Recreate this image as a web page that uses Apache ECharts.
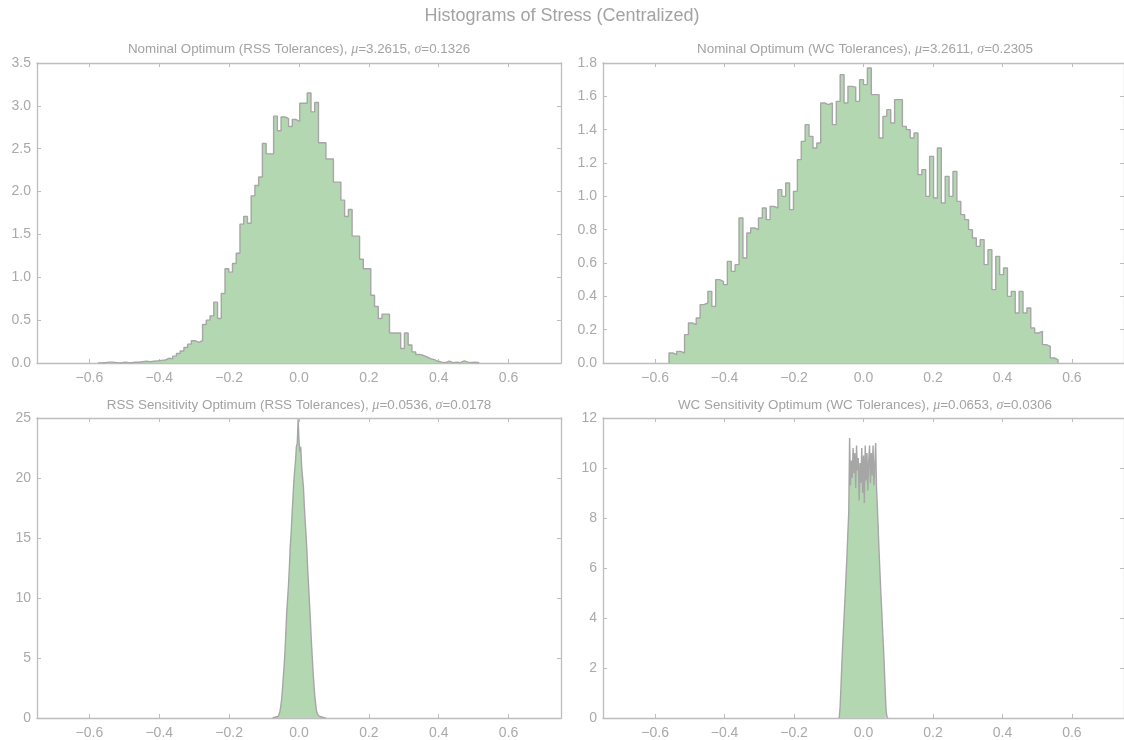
<!DOCTYPE html>
<html>
<head>
<meta charset="utf-8">
<script src="https://cdn.jsdelivr.net/npm/echarts@6/dist/echarts.min.js"></script>
<style>
  html, body { margin: 0; padding: 0; background: #ffffff; }
  #chart { width: 1124px; height: 740px; }
</style>
</head>
<body>
<div id="chart"></div>
<script>
// ---------------- DATA ----------------
const MAIN_TITLE = 'Histograms of Stress (Centralized)';

const PANEL_NAMES = [
  'Nominal Optimum (RSS Tolerances)',
  'Nominal Optimum (WC Tolerances)',
  'RSS Sensitivity Optimum (RSS Tolerances)',
  'WC Sensitivity Optimum (WC Tolerances)'
];
const PANEL_MU = ['3.2615', '3.2611', '0.0536', '0.0653'];
const PANEL_SIGMA = ['0.1326', '0.2305', '0.0178', '0.0306'];

const X_TICKS = [-0.6, -0.4, -0.2, 0.0, 0.2, 0.4, 0.6];

// y-axis ranges per panel
const Y_MAX = [3.5, 1.8, 25, 12];
const Y_STEP = [0.5, 0.2, 5, 2];
const Y_DECIMALS = [1, 1, 0, 0];

// panel 1: Nominal Optimum (RSS)
const TL_START = -0.5756;
const TL_WIDTH = 0.0107;
const TL_HEIGHTS = [
  0, 0.005, 0.01, 0.01, 0.005, 0, 0.008, 0.005, 0.003, 0.01,
  0.008, 0.015, 0.02, 0.015, 0.02, 0.025, 0.03, 0.035,
  0.055, 0.05, 0.08, 0.11, 0.14, 0.18, 0.22, 0.26, 0.24, 0.26,
  0.45, 0.50, 0.55, 0.71, 0.52, 0.81, 1.10, 1.06, 1.16, 1.28,
  1.62, 1.71, 1.63, 1.95, 2.07, 2.17, 2.56, 2.44, 2.44, 2.88,
  2.71, 2.87, 2.85, 2.76, 2.84, 2.82,
  3.03, 3.03, 3.15, 2.93, 3.04, 2.57, 2.57, 2.38, 2.38, 2.11,
  2.11, 1.90, 1.71, 1.79, 1.48, 1.48, 1.21, 1.10, 1.10, 0.79,
  0.66, 0.52, 0.57, 0.57, 0.35, 0.35, 0.35, 0.17, 0.35, 0.21,
  0.13, 0.10, 0.09, 0.07, 0.05, 0.04, 0.02,
  0.01, 0.005, 0.02, 0.005, 0.01, 0.005, 0.025, 0.01, 0.005, 0.008, 0.003
];

// panel 2: Nominal Optimum (WC)
const TR_START = -0.56;
const TR_WIDTH = 0.0112;
const TR_HEIGHTS = [
  0.06, 0.05, 0.07, 0.06, 0.17, 0.24, 0.23, 0.27, 0.35, 0.36,
  0.43, 0.34, 0.50, 0.49, 0.47, 0.61, 0.55, 0.59, 0.87, 0.63,
  0.78, 0.81, 0.80, 0.87, 0.93, 0.86, 0.94, 0.93, 1.04, 1.00,
  1.08, 0.92, 1.03, 1.22, 1.33, 1.43, 1.36, 1.29, 1.32, 1.56,
  1.55, 1.56, 1.43, 1.57, 1.73, 1.56, 1.66, 1.655, 1.57, 1.70,
  1.67, 1.77, 1.61, 1.61, 1.35, 1.48, 1.52, 1.44, 1.58, 1.58,
  1.42, 1.40, 1.35, 1.38, 1.13, 1.16, 1.00, 1.24, 0.99, 1.29,
  0.96, 1.12, 1.00, 1.15, 0.97, 0.89, 0.86, 0.80, 0.75, 0.70,
  0.74, 0.59, 0.68, 0.44, 0.64, 0.53, 0.57, 0.40, 0.43, 0.30,
  0.43, 0.30, 0.33, 0.21, 0.18, 0.19, 0.11, 0.10, 0.03, 0.02
];

// panel 3: RSS Sensitivity Optimum (RSS)
const BL_START = -0.075;
const BL_WIDTH = 0.0025;
const BL_HEIGHTS = [
  0.05, 0.0, 0.08, 0.05, 0.1, 0.12, 0.2, 0.3, 0.5, 0.9,
  1.5, 2.3, 3.4, 4.4, 5.6, 7.2, 8.9, 10.0, 11.1, 12.6,
  14.3, 15.4, 16.9, 18.2, 19.6, 20.6, 21.4, 22.6, 22.9, 24.9,
  23.1, 22.2, 22.6, 21.0, 20.1, 19.3, 17.8, 16.5, 15.3, 14.0,
  12.3, 11.0, 9.6, 8.2, 6.6, 5.3, 4.0, 2.9, 1.9, 1.2,
  0.6, 0.35, 0.25, 0.15, 0.1, 0.08, 0.05, 0.04, 0.03, 0.02,
  0.01
];

// panel 4: WC Sensitivity Optimum (WC)
const BR_START = -0.07;
const BR_WIDTH = 0.0025;
const BR_HEIGHTS = [
  0.05, 0.4, 1.2, 2.1, 2.9, 3.6, 4.3, 5.0, 5.8, 6.5,
  7.4, 8.2, 11.2, 9.3, 10.3, 9.6, 10.8, 9.8, 10.6, 9.2,
  10.9, 9.9, 10.4, 8.7, 10.2, 9.4, 10.8, 9.0, 10.5, 8.6,
  10.9, 9.5, 10.6, 9.1, 10.3, 10.9, 9.4, 10.6, 9.7, 10.9,
  9.3, 10.1, 11.0, 9.2, 8.4, 7.5, 6.6, 5.8, 5.0, 4.3,
  3.5, 2.8, 2.0, 1.1, 0.3, 0.05
];

// ---------------- STYLE ----------------
const FRAME = '#bdbdbd';
const LABEL = '#a9a9a9';
const TITLE = '#a3a3a3';
const FILL = '#b3d8b1';
const EDGE = '#a6a6a6';
const FONT = '"Liberation Sans", Arial, Helvetica, sans-serif';

const GRIDS = [
  { left: 37, top: 63, width: 524, height: 300 },
  { left: 603, top: 63, width: 524, height: 300 },
  { left: 37, top: 418, width: 524, height: 300 },
  { left: 603, top: 418, width: 524, height: 300 }
];

function histData(start, width, heights) {
  const pts = [[start, 0]];
  heights.forEach((h, i) => pts.push([start + i * width, h]));
  pts.push([start + heights.length * width, 0]);
  return pts;
}

function fmtX(v) {
  const s = Math.abs(v).toFixed(1);
  return (v < -1e-9 ? '\u2212' : '') + s;
}

const xAxis = [];
const yAxis = [];
GRIDS.forEach((g, gi) => {
  ['bottom', 'top'].forEach(pos => {
    xAxis.push({
      type: 'value', gridIndex: gi, position: pos,
      min: -0.75, max: 0.75,
      axisLine: { show: true, onZero: false, lineStyle: { color: FRAME, width: 1.3 } },
      axisTick: { show: true, inside: true, length: 4, customValues: X_TICKS,
                  lineStyle: { color: FRAME, width: 1 } },
      axisLabel: { show: pos === 'bottom', customValues: X_TICKS, formatter: fmtX,
                   color: LABEL, fontSize: 14, fontFamily: FONT, margin: 8 },
      splitLine: { show: false }
    });
  });
  ['left', 'right'].forEach(pos => {
    yAxis.push({
      type: 'value', gridIndex: gi, position: pos,
      min: 0, max: Y_MAX[gi], interval: Y_STEP[gi],
      axisLine: { show: true, onZero: false, lineStyle: { color: FRAME, width: 1.3 } },
      axisTick: { show: true, inside: true, length: 4, lineStyle: { color: FRAME, width: 1 } },
      axisLabel: { show: pos === 'left',
                   formatter: v => v.toFixed(Y_DECIMALS[gi]),
                   color: LABEL, fontSize: 14, fontFamily: FONT, margin: 6 },
      splitLine: { show: false }
    });
  });
});

const HISTS = [
  [TL_START, TL_WIDTH, TL_HEIGHTS],
  [TR_START, TR_WIDTH, TR_HEIGHTS],
  [BL_START, BL_WIDTH, BL_HEIGHTS],
  [BR_START, BR_WIDTH, BR_HEIGHTS]
];

const series = HISTS.map((h, gi) => ({
  type: 'line',
  xAxisIndex: gi * 2,
  yAxisIndex: gi * 2,
  step: 'end',
  symbol: 'none',
  showSymbol: false,
  silent: true,
  clip: true,
  lineStyle: { color: EDGE, width: 1.4 },
  areaStyle: { color: FILL, opacity: 1 },
  data: histData(h[0], h[1], h[2])
}));

const graphic = [{
  type: 'text', x: 562, y: 16,
  style: { text: MAIN_TITLE, font: '18px ' + FONT, fill: TITLE,
           textAlign: 'center', textVerticalAlign: 'middle', align: 'center', verticalAlign: 'middle' }
}];
const SUB_Y = [49, 49, 405, 405];
GRIDS.forEach((g, gi) => {
  graphic.push({
    type: 'text', x: g.left + 262, y: SUB_Y[gi],
    style: {
      text: '{n|' + PANEL_NAMES[gi] + ', }{i|\u03bc}{n|=' + PANEL_MU[gi] + ', }{i|\u03c3}{n|=' + PANEL_SIGMA[gi] + '}',
      rich: {
        n: { fontSize: 13.4, fontFamily: FONT, fill: TITLE, color: TITLE },
        i: { fontSize: 14, fontFamily: '"Liberation Serif", "DejaVu Serif", serif', fontStyle: 'italic', fill: TITLE, color: TITLE }
      },
      textAlign: 'center', textVerticalAlign: 'middle', align: 'center', verticalAlign: 'middle'
    }
  });
});

const chart = echarts.init(document.getElementById('chart'), null, { renderer: 'canvas' });
chart.setOption({
  animation: false,
  backgroundColor: '#ffffff',
  grid: GRIDS.map(g => Object.assign({ containLabel: false }, g)),
  xAxis: xAxis,
  yAxis: yAxis,
  series: series,
  graphic: graphic
});
</script>
</body>
</html>
